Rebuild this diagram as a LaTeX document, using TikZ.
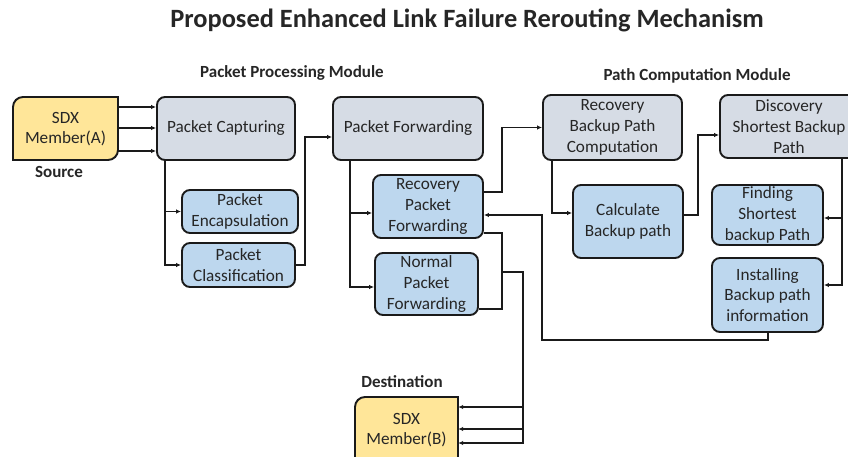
\documentclass[tikz,border=0pt]{standalone}
\usepackage{fontspec}
\setmainfont{Carlito}
\usetikzlibrary{arrows.meta}
\definecolor{greyfill}{HTML}{D6DCE5}
\definecolor{bluefill}{HTML}{BDD7EE}
\definecolor{yellowfill}{HTML}{FFE699}
\definecolor{edge}{HTML}{1A1A1A}
\definecolor{txt}{HTML}{262626}
\tikzset{
  box/.style={draw=edge, line width=1.9pt, rounded corners=8pt, align=center,
    inner sep=0pt, text=txt, font=\fontsize{17.2}{20.7}\selectfont},
  greybox/.style={box, fill=greyfill},
  bluebox/.style={box, fill=bluefill},
  sdxtext/.style={align=center, inner sep=0pt, text=txt, font=\fontsize{17.2}{20.7}\selectfont},
  sdxshape/.style={draw=edge, line width=1.9pt, fill=yellowfill},
  label/.style={font=\bfseries\fontsize{17}{20}\selectfont, inner sep=0pt, text=txt},
  conn/.style={draw=edge, line width=1.5pt},
  arr/.style={conn, -{Latex[length=5pt,width=4.5pt]}},
}
\begin{document}
\begin{tikzpicture}[x=1pt,y=-1pt]
\useasboundingbox (0,0) rectangle (848,457);
% title and labels
\node[font=\bfseries\fontsize{26.4}{30}\selectfont, inner sep=0pt, text=txt] (title) at (467,20) {Proposed Enhanced Link Failure Rerouting Mechanism};
\node[label] (ppm) at (292,73) {Packet Processing Module};
\node[label] (pcm) at (697,76) {Path Computation Module};
\node[label] (src) at (59,172) {Source};
\node[label] (dst) at (402,382) {Destination};
% SDX A
\path[sdxshape] (13,160) -- (13,107) arc[start angle=180,end angle=90,radius=10pt] -- (118,97) -- (118,150) arc[start angle=0,end angle=-90,radius=10pt] -- cycle;
\node[sdxtext, minimum width=105pt, minimum height=63pt] (A) at (65.5,129) {SDX\\Member(A)};
% SDX B
\path[sdxshape] (355,470) -- (355,407) arc[start angle=180,end angle=90,radius=10pt] -- (458,397) -- (458,470) -- cycle;
\node[sdxtext, minimum width=103pt, minimum height=65pt] (B) at (406.5,430) {SDX\\Member(B)};
% boxes
\node[greybox, minimum width=138pt, minimum height=63pt] (PC) at (226,128.5) {Packet Capturing};
\node[bluebox, minimum width=116pt, minimum height=43pt] (PE) at (240,211.5) {Packet\\Encapsulation};
\node[bluebox, minimum width=113pt, minimum height=44pt] (PCl) at (238.5,265) {Packet\\Classification};
\node[greybox, minimum width=150pt, minimum height=63pt] (PF) at (408,128.5) {Packet Forwarding};
\node[bluebox, minimum width=110pt, minimum height=63pt] (RPF) at (428,206.5) {Recovery\\Packet\\Forwarding};
\node[bluebox, minimum width=103pt, minimum height=62pt] (NPF) at (426.5,284) {Normal\\Packet\\Forwarding};
\node[greybox, minimum width=139pt, minimum height=65pt] (RBPC) at (612.5,127.5) {Recovery\\Backup Path\\Computation};
\node[bluebox, minimum width=110pt, minimum height=73pt] (CBP) at (628,221.5) {Calculate\\Backup path};
\node[greybox, minimum width=138pt, minimum height=63pt] (DSBP) at (789,126.5) {Discovery\\Shortest Backup\\Path};
\node[bluebox, minimum width=111pt, minimum height=60pt] (FSBP) at (767.5,215) {Finding\\Shortest\\backup Path};
\node[bluebox, minimum width=111pt, minimum height=74pt] (IBPI) at (767.5,295) {Installing\\Backup path\\information};
% junction coordinates
\coordinate (j1) at (165,160);
\coordinate (j2) at (350,160);
\coordinate (j3) at (502,272);
\coordinate (j5) at (552,160);
\coordinate (j6) at (842,158);
% connectors: source to capturing
\draw[arr] (A.east |- 0,107) -- (PC.west |- 0,107);
\draw[arr] (A.east |- 0,128) -- (PC.west |- 0,128);
\draw[arr] (A.east |- 0,151) -- (PC.west |- 0,151);
% capturing to encapsulation / classification
\draw[arr] (j1) |- (PE.west);
\draw[arr] (j1) |- (PCl.west);
% classification to forwarding
\draw[arr] (PCl.east) -- (305,265) |- (PF.west |- 0,137);
% forwarding to recovery / normal
\draw[arr] (j2) |- (RPF.west |- 0,213);
\draw[arr] (j2) |- (NPF.west |- 0,287);
% recovery forwarding to recovery backup path computation
\draw[arr] (RPF.east |- 0,192) -- (502,192) |- (RBPC.west);
% recovery to normal link
\draw[conn] (RPF.east |- 0,233) -| (502,309) -- (NPF.east |- 0,309);
% to destination
\draw[arr] (j3) -| (523,407) -- (B.east |- 0,407);
\draw[arr] (523,407) |- (B.east |- 0,429);
\draw[arr] (523,429) |- (B.east |- 0,443);
% path computation
\draw[arr] (j5) |- (CBP.west |- 0,213);
\draw[arr] (CBP.east |- 0,215) -- (698,215) |- (DSBP.west |- 0,135);
\draw[arr] (j6) |- (FSBP.east |- 0,218);
\draw[arr] (j6) |- (IBPI.east |- 0,285);
% feedback
\draw[arr] (IBPI.south -| 768,0) -- (768,340) -| (542,215) -- (RPF.east |- 0,215);
\end{tikzpicture}
\end{document}
